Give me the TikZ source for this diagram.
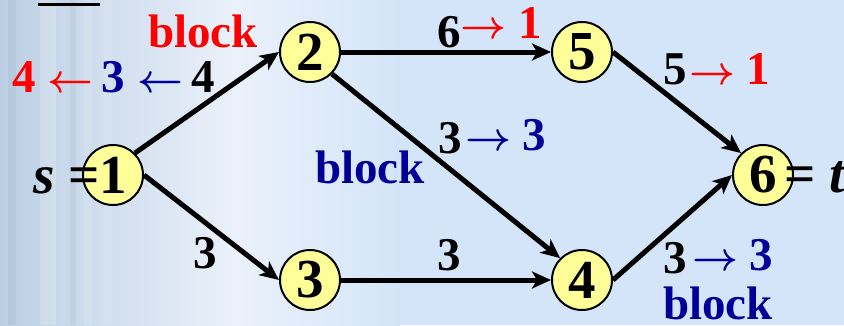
\RequirePackage{fix-cm}
\documentclass[tikz,border=0pt]{standalone}
\usepackage{fontspec}
\setmainfont{Liberation Serif}
\usetikzlibrary{arrows.meta,backgrounds}
\definecolor{nodefill}{HTML}{FFFF99}
\definecolor{flowred}{HTML}{FF0000}
\definecolor{flowblue}{HTML}{000099}
\definecolor{bgleft}{HTML}{BCCFE4}
\definecolor{bgmid}{HTML}{EAF1FA}
\definecolor{bgright}{HTML}{D4E5F9}
% arrows used inside the flow labels
\newcommand\flowra{{\fontsize{40}{40}\selectfont$\rightarrow$}}
\newcommand\flowla{{\fontsize{40}{40}\selectfont$\leftarrow$}}
\begin{document}
\begin{tikzpicture}[x=1pt,y=-1pt,
  vertex/.style={circle,draw=black,line width=2pt,fill=nodefill,minimum size=60pt,
    inner sep=0pt,font=\fontsize{55}{55}\selectfont\bfseries},
  edge/.style={line width=5pt,-{Stealth[length=19pt,width=17pt,inset=5pt]}},
  lbl/.style={anchor=base west,inner sep=0pt,font=\fontsize{47}{47}\selectfont\bfseries\boldmath},
  endlbl/.style={anchor=base west,inner sep=0pt,font=\fontsize{55}{55}\selectfont\bfseries},
  ]
% page background
\useasboundingbox (0,0) rectangle (844,325);
\begin{scope}[on background layer]
  \shade[left color=bgleft,right color=bgmid] (0,0) rectangle (235,325);
  \shade[left color=bgmid,right color=bgright] (235,0) rectangle (400,325);
  \fill[bgright] (400,0) rectangle (844,325);
  % faint vertical bands on the left
  \fill[white,opacity=0.18] (40,0) rectangle (56,325);
  \fill[white,opacity=0.12] (84,0) rectangle (92,325);
  \fill[white,opacity=0.12] (104,0) rectangle (112,325);
  \fill[black!30!bgleft,opacity=0.12] (8,0) rectangle (16,325);
  \fill[black!30!bgleft,opacity=0.1] (70,0) rectangle (76,325);
\end{scope}
\draw[line width=3pt] (38,4) -- (100,4);

% vertices
\node[vertex] (n1) at (113,175) {1};
\node[vertex] (n2) at (310,52) {2};
\node[vertex] (n3) at (310,280) {3};
\node[vertex] (n4) at (582,280) {4};
\node[vertex] (n5) at (582,52) {5};
\node[vertex] (n6) at (763,175) {6};

% arcs
\begin{scope}[on background layer]
  \draw[edge] (n1.north east) -- (n2.west);
  \draw[edge] (n1.east) -- (n3.west);
  \draw[edge] (n2.east) -- (n5.west);
  \draw[edge] (n2.south east) -- (n4.north west);
  \draw[edge] (n3.east) -- (n4.west);
  \draw[edge] (n5.east) -- (n6.north west);
  \draw[edge] (n4.east) -- (n6.west);
\end{scope}

% source and sink
\node[endlbl] (src) at (33,193) {\textit{s} =};
\node[endlbl] (snk) at (784,192) {= \textit{t}};

% capacity and flow labels
\node[lbl,text=flowred] (bk1) at (148,47) {block};
\node[lbl] (f12) at (12,92) {\textcolor{flowred}{4\hspace{12pt}\flowla}\hspace{8pt}\textcolor{flowblue}{3\hspace{12pt}\flowla}\hspace{8pt}4};
\node[lbl] (f13) at (193,268) {3};
\node[lbl] (f25a) at (437,47) {6};
\node[lbl,text=flowred] (f25b) at (460,38) {\flowra\hspace{12pt}1};
\node[lbl] (f24a) at (438,153) {3};
\node[lbl,text=flowblue] (f24b) at (465,150) {\flowra\hspace{11pt}3};
\node[lbl,text=flowblue] (bk2) at (315,183) {block};
\node[lbl] (f34) at (437,270) {3};
\node[lbl] (f56) at (663,84) {5\hspace{3pt}\textcolor{flowred}{\flowra\hspace{11pt}1}};
\node[lbl] (f46a) at (663,273) {3};
\node[lbl,text=flowblue] (f46b) at (692,270) {\flowra\hspace{11pt}3};
\node[lbl,text=flowblue] (bk3) at (663,319) {block};
\end{tikzpicture}
\end{document}
